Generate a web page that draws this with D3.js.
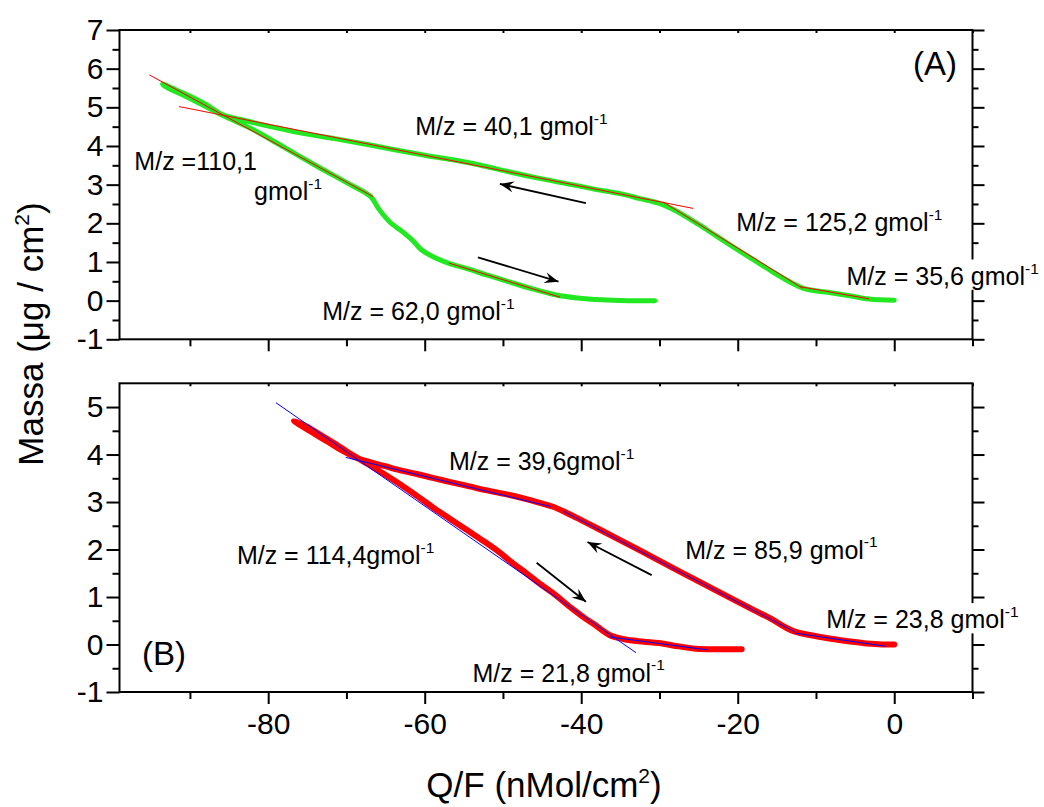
<!DOCTYPE html>
<html>
<head>
<meta charset="utf-8">
<script src="https://cdn.jsdelivr.net/npm/d3@7"></script>
<style>
  body { margin: 0; background: #fff; }
  text { font-family: "Liberation Sans", Arial, sans-serif; fill: #000; }
</style>
</head>
<body>
<svg id="chart" width="1044" height="807"></svg>
<script>
// ---- Panel A: mass change vs. charge (green loop) ----
const chargeA = [0.0, -3.2, -5.5, -8.3, -11.5, -13.2, -15.5, -18.0, -20.5, -22.8, -25.0, -27.7, -30.1,
  -32.5, -34.9, -38.5, -42.2, -45.5, -49.4, -53.0, -56.7, -60.0, -63.5, -67.3, -71.5, -75.9, -80.1,
  -83.0, -85.7, -88.0, -91.0, -93.5, -93.0, -90.5, -88.0, -85.7, -82.2, -78.0, -73.7, -69.5, -66.9,
  -65.9, -64.4, -62.7, -61.5, -60.5, -58.8, -57.0, -54.5, -52.0, -49.4, -46.5, -43.5, -40.5, -37.4,
  -34.0, -30.6];
const massA = [0.01, 0.04, 0.12, 0.21, 0.31, 0.47, 0.74, 1.06, 1.38, 1.68, 1.97, 2.30, 2.52,
  2.64, 2.76, 2.89, 3.04, 3.17, 3.34, 3.51, 3.65, 3.76, 3.89, 4.04, 4.19, 4.34, 4.52,
  4.66, 4.80, 5.08, 5.38, 5.60, 5.52, 5.28, 5.02, 4.78, 4.45, 3.97, 3.47, 3.00, 2.69,
  2.38, 2.02, 1.76, 1.55, 1.33, 1.12, 0.97, 0.82, 0.66, 0.50, 0.32, 0.16, 0.07, 0.02,
  0.00, 0.00];

// ---- Panel B: mass change vs. charge (red loop) ----
const chargeB = [0.0, -1.5, -3.5, -5.9, -8.5, -10.8, -12.7, -14.0, -15.5, -18.0, -22.8, -27.7, -32.5,
  -37.4, -40.0, -41.7, -43.6, -45.3, -47.0, -49.5, -51.9, -54.3, -56.7, -59.0, -61.0, -63.2, -65.2,
  -67.0, -68.6, -70.5, -72.5, -74.5, -76.7, -75.0, -73.7, -71.5, -69.9, -67.3, -65.0, -63.1, -61.0,
  -58.8, -56.7, -54.6, -52.5, -50.6, -48.8, -47.0, -45.3, -43.6, -41.2, -39.5, -38.3, -36.4, -34.5,
  -32.0, -30.1, -27.5, -25.3, -22.5, -19.5];
const massB = [0.00, 0.00, 0.02, 0.07, 0.13, 0.20, 0.27, 0.37, 0.52, 0.73, 1.14, 1.56, 1.98,
  2.40, 2.62, 2.76, 2.90, 2.98, 3.06, 3.16, 3.24, 3.33, 3.42, 3.51, 3.59, 3.67, 3.76,
  3.84, 3.92, 4.08, 4.28, 4.48, 4.71, 4.58, 4.45, 4.23, 4.06, 3.80, 3.57, 3.37, 3.13,
  2.87, 2.64, 2.41, 2.18, 1.96, 1.72, 1.50, 1.28, 1.08, 0.76, 0.55, 0.42, 0.20, 0.11,
  0.06, 0.03, -0.04, -0.09, -0.10, -0.10];

// ---- Linear segments: slope = -(M/z)/1000 (ng per nmol -> µg per nmol) ----
const fitMzA = [110.1, 40.1, 125.2, 35.6, 62.0];
const fitStartQA = [-95.2, -91.4, -29.6, -12.0, -56.9];
const fitStartMA = [5.84, 5.02, 2.56, 0.36, 0.97];
const fitEndQA = [-66.6, -25.7, -11.7, -3.2, -42.7];

const fitMzB = [114.4, 39.6, 85.9, 23.8, 21.8];
const fitStartQB = [-79.0, -70.1, -42.2, -12.7, -36.4];
const fitStartMB = [5.09, 3.94, 2.80, 0.24, 0.16];
const fitEndQB = [-33.0, -43.9, -12.7, -1.1, -23.8];

// ---- Annotations ----
const labelTextA = ["M/z = 40,1 gmol", "M/z =110,1", "gmol", "M/z = 125,2 gmol", "M/z = 35,6 gmol", "M/z = 62,0 gmol"];
const labelSupA = ["-1", "", "-1", "-1", "-1", "-1"];
const labelQA = [-61.2, -97.1, -81.8, -20.2, -6.1, -73.1];
const labelMA = [4.29, 3.38, 2.60, 1.79, 0.41, -0.50];
const labelBgA = [false, false, false, false, true, false];

const labelTextB = ["M/z = 39,6gmol", "M/z = 114,4gmol", "M/z = 85,9 gmol", "M/z = 23,8 gmol", "M/z = 21,8 gmol"];
const labelSupB = ["-1", "-1", "-1", "-1", "-1"];
const labelQB = [-56.9, -84.0, -26.7, -8.7, -53.9];
const labelMB = [3.67, 1.69, 1.81, 0.34, -0.78];
const labelBgB = [false, false, false, true, false];

// ---- Direction arrows (tail -> head) ----
const arrowTailQA = [-39.4, -53.2], arrowTailMA = [2.52, 1.12];
const arrowHeadQA = [-50.4, -42.9], arrowHeadMA = [3.02, 0.49];
const arrowTailQB = [-31.0, -45.7], arrowTailMB = [1.46, 1.72];
const arrowHeadQB = [-39.2, -39.4], arrowHeadMB = [2.16, 0.90];

// ---- Ticks ----
const xMajorTicks = [-80, -60, -40, -20, 0];
const xMinorTicks = [-90, -70, -50, -30, -10, 10];
const yMajorTicksA = [-1, 0, 1, 2, 3, 4, 5, 6, 7];
const yMinorTicksA = [-0.5, 0.5, 1.5, 2.5, 3.5, 4.5, 5.5, 6.5];
const yMajorTicksB = [-1, 0, 1, 2, 3, 4, 5];
const yMinorTicksB = [-0.5, 0.5, 1.5, 2.5, 3.5, 4.5];

const svg = d3.select("#chart");
const left = 119.5, right = 972.5;
const x = d3.scaleLinear().domain([-99, 10]).range([left, right]);
const yA = d3.scaleLinear().domain([-1, 7]).range([339.3, 30]);
const yB = d3.scaleLinear().domain([-1, 5.5]).range([692, 383.3]);

const TICK_FONT = 30, NOTE_FONT = 25;

// arrowhead
svg.append("defs").append("marker")
  .attr("id", "head")
  .attr("viewBox", "-15 -6 16 12")
  .attr("refX", 0).attr("refY", 0)
  .attr("markerWidth", 16).attr("markerHeight", 12)
  .attr("markerUnits", "userSpaceOnUse")
  .attr("orient", "auto")
  .append("path")
  .attr("d", "M0,0 L-14,-5.5 L-9,0 L-14,5.5 Z")
  .attr("fill", "#000");

function styleAxis(g, labels) {
  g.select(".domain").remove();
  g.attr("font-size", null).attr("font-family", null);
  g.selectAll(".tick line").attr("stroke", "#000").attr("stroke-width", 2);
  if (labels) g.selectAll(".tick text").attr("font-size", TICK_FONT).attr("fill", "#000");
  else g.selectAll(".tick text").remove();
}

function drawFrame(y, yMaj, yMin, withXLabels) {
  const [y0, y1] = y.range(); // bottom, top
  const g = svg.append("g");
  const fmt = d => String(d);

  // left
  g.append("g").attr("transform", `translate(${left},0)`)
    .call(d3.axisLeft(y).tickValues(yMaj).tickSize(13).tickPadding(3).tickFormat(fmt))
    .call(a => styleAxis(a, true));
  g.append("g").attr("transform", `translate(${left},0)`)
    .call(d3.axisLeft(y).tickValues(yMin).tickSize(7))
    .call(a => styleAxis(a, false));
  // right
  g.append("g").attr("transform", `translate(${right},0)`)
    .call(d3.axisRight(y).tickValues(yMaj).tickSize(12))
    .call(a => styleAxis(a, false));
  g.append("g").attr("transform", `translate(${right},0)`)
    .call(d3.axisRight(y).tickValues(yMin).tickSize(6))
    .call(a => styleAxis(a, false));
  // bottom
  g.append("g").attr("transform", `translate(0,${y0})`)
    .call(d3.axisBottom(x).tickValues(xMajorTicks).tickSize(12).tickPadding(9).tickFormat(fmt))
    .call(a => styleAxis(a, withXLabels));
  g.append("g").attr("transform", `translate(0,${y0})`)
    .call(d3.axisBottom(x).tickValues(xMinorTicks).tickSize(7))
    .call(a => styleAxis(a, false));
  // top (short inward ticks)
  g.append("g").attr("transform", `translate(0,${y1})`)
    .call(d3.axisBottom(x).tickValues(xMajorTicks.concat(xMinorTicks)).tickSize(3))
    .call(a => styleAxis(a, false));

  g.append("rect")
    .attr("x", left).attr("y", y1)
    .attr("width", right - left).attr("height", y0 - y1)
    .attr("fill", "none").attr("stroke", "#000").attr("stroke-width", 2);
}

function drawCurve(y, q, m, color, width) {
  const line = d3.line().x(i => x(q[i])).y(i => y(m[i])).curve(d3.curveCatmullRom.alpha(0.5));
  svg.append("path")
    .attr("d", line(d3.range(q.length)))
    .attr("fill", "none").attr("stroke", color).attr("stroke-width", width)
    .attr("stroke-linecap", "round").attr("stroke-linejoin", "round");
}

function drawFits(y, mz, q0, m0, q1, color) {
  svg.append("g").selectAll("line").data(d3.range(mz.length)).join("line")
    .attr("x1", i => x(q0[i])).attr("y1", i => y(m0[i]))
    .attr("x2", i => x(q1[i])).attr("y2", i => y(m0[i] - mz[i] / 1000 * (q1[i] - q0[i])))
    .attr("stroke", color).attr("stroke-width", 1);
}

function drawArrows(y, tq, tm, hq, hm) {
  svg.append("g").selectAll("line").data(d3.range(tq.length)).join("line")
    .attr("x1", i => x(tq[i])).attr("y1", i => y(tm[i]))
    .attr("x2", i => x(hq[i])).attr("y2", i => y(hm[i]))
    .attr("stroke", "#000").attr("stroke-width", 1.8)
    .attr("marker-end", "url(#head)");
}

function drawLabels(y, texts, sups, qs, ms, bgs) {
  const g = svg.append("g");
  texts.forEach((t, i) => {
    const el = g.append("text")
      .attr("x", x(qs[i])).attr("y", y(ms[i]))
      .attr("font-size", NOTE_FONT).text(t);
    if (sups[i]) {
      el.append("tspan").attr("font-size", NOTE_FONT * 0.62)
        .attr("dy", -NOTE_FONT * 0.45).text(sups[i]);
    }
    if (bgs[i]) {
      const b = el.node().getBBox();
      g.insert("rect", () => el.node())
        .attr("x", b.x - 1).attr("y", b.y).attr("width", b.width + 2).attr("height", b.height)
        .attr("fill", "#fff");
    }
  });
}

// Panel A
drawFrame(yA, yMajorTicksA, yMinorTicksA, false);
drawCurve(yA, chargeA, massA, "#22e822", 5);
drawFits(yA, fitMzA, fitStartQA, fitStartMA, fitEndQA, "#ff0000");
drawArrows(yA, arrowTailQA, arrowTailMA, arrowHeadQA, arrowHeadMA);
drawLabels(yA, labelTextA, labelSupA, labelQA, labelMA, labelBgA);

// Panel B
drawFrame(yB, yMajorTicksB, yMinorTicksB, true);
drawCurve(yB, chargeB, massB, "#ff0000", 6);
drawFits(yB, fitMzB, fitStartQB, fitStartMB, fitEndQB, "#0000ff");
drawArrows(yB, arrowTailQB, arrowTailMB, arrowHeadQB, arrowHeadMB);
drawLabels(yB, labelTextB, labelSupB, labelQB, labelMB, labelBgB);

// Panel tags
svg.append("text").attr("x", 957).attr("y", 75).attr("text-anchor", "end")
  .attr("font-size", 33).text("(A)");
svg.append("text").attr("x", 142).attr("y", 665)
  .attr("font-size", 33).text("(B)");

// Axis titles
const yTitle = svg.append("text")
  .attr("transform", "translate(43,334) rotate(-90)")
  .attr("text-anchor", "middle").attr("font-size", 35);
yTitle.append("tspan").text("Massa (\u03bcg / cm");
yTitle.append("tspan").attr("font-size", 21).attr("dy", -14).text("2");
yTitle.append("tspan").attr("dy", 14).text(")");

const xTitle = svg.append("text")
  .attr("x", 544).attr("y", 797)
  .attr("text-anchor", "middle").attr("font-size", 35);
xTitle.append("tspan").text("Q/F (nMol/cm");
xTitle.append("tspan").attr("font-size", 21).attr("dy", -14).text("2");
xTitle.append("tspan").attr("dy", 14).text(")");
</script>
</body>
</html>
